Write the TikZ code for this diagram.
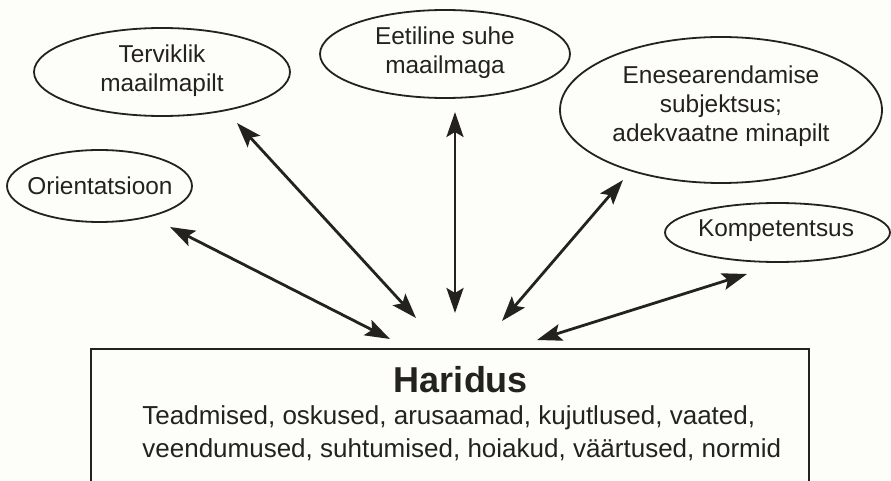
\documentclass[tikz,border=0pt]{standalone}
\usepackage{fontspec}
\setmainfont{Liberation Sans}
\usetikzlibrary{shapes.geometric,arrows.meta}
\definecolor{ink}{RGB}{36,34,30}
\definecolor{paper}{RGB}{253,253,249}
\tikzset{
  goal/.style={ellipse, draw=ink, line width=0.9pt, inner sep=0pt},
  goaltext/.style={text=ink, align=center, inner sep=0pt, font=\fontsize{12.2}{14.6}\selectfont},
  link/.style={draw=ink, line width=1.4pt, {Stealth[length=12.5pt,width=8.5pt,inset=2.5pt]}-{Stealth[length=12.5pt,width=8.5pt,inset=2.5pt]}},
  boxtext/.style={text=ink, font=\fontsize{13}{16.5}\selectfont, inner sep=0pt},
}
\begin{document}
\begin{tikzpicture}[x=0.5pt,y=-0.5pt]
\clip (0,0) rectangle (891,481);
\fill[paper] (0,0) rectangle (891,481);
% goal ellipses
\node[goal, minimum width=128pt, minimum height=44pt] (tervik) at (162,72) {};
\node[goaltext] (terviktext) at (162,71) {Terviklik\\maailmapilt};
\node[goal, minimum width=125pt, minimum height=44pt] (eetiline) at (445,54) {};
\node[goaltext] (eetilinetext) at (445,53) {Eetiline suhe\\maailmaga};
\node[goal, minimum width=161pt, minimum height=73pt] (enese) at (721,110) {};
\node[goaltext] (enesetext) at (721,106) {Enesearendamise\\subjektsus;\\adekvaatne minapilt};
\node[goal, minimum width=92.5pt, minimum height=36pt] (orient) at (99.5,186) {};
\node[goaltext] (orienttext) at (100,186) {Orientatsioon};
\node[goal, minimum width=112.5pt, minimum height=29.5pt] (kompet) at (777.5,232.5) {};
\node[goaltext] (kompettext) at (776,231) {Kompetentsus};
% education box (cut off at the bottom)
\node[draw=ink, line width=1pt, anchor=north west, minimum width=359pt, minimum height=90pt, inner sep=0pt] (haridus) at (90,348) {};
\node[text=ink, font=\fontsize{18}{20}\selectfont\bfseries, anchor=base, inner sep=0pt] (title) at (461,393) {Haridus};
\node[boxtext, anchor=base west] (line1) at (142,425) {Teadmised, oskused, arusaamad, kujutlused, vaated,};
\node[boxtext, anchor=base west] (line2) at (142,458) {veendumused, suhtumised, hoiakud, väärtused, normid};
% arrow end points
\coordinate (o1) at (170,227); \coordinate (o2) at (390,339);
\coordinate (t1) at (237,123); \coordinate (t2) at (416,318);
\coordinate (e1) at (455,112); \coordinate (e2) at (455,313);
\coordinate (n1) at (623,180); \coordinate (n2) at (502,321);
\coordinate (k1) at (747,274); \coordinate (k2) at (537,340);
\draw[link] (o1) -- (o2);
\draw[link] (t1) -- (t2);
\draw[link] (e1) -- (e2);
\draw[link] (n1) -- (n2);
\draw[link] (k1) -- (k2);
\end{tikzpicture}
\end{document}
